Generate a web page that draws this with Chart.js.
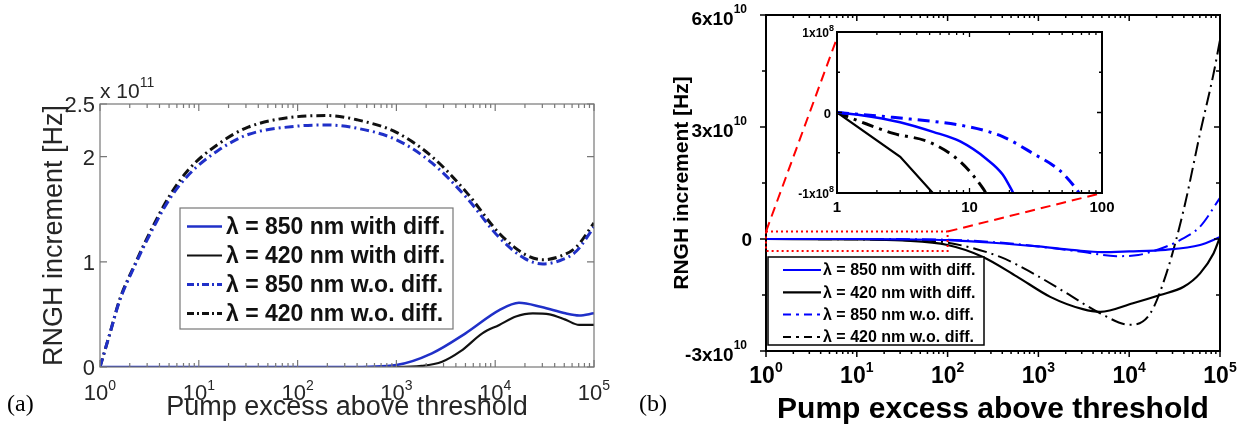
<!DOCTYPE html>
<html>
<head>
<meta charset="utf-8">
<title>RNGH increment vs pump excess</title>
<script src="https://cdn.jsdelivr.net/npm/chart.js@4.4.1/dist/chart.umd.min.js"></script>
<style>
  html, body { margin: 0; padding: 0; background: #fff; }
  body { position: relative; width: 1246px; height: 441px; overflow: hidden; }
  canvas { position: absolute; }
  #chartA { left: 0; top: 0; }
  #chartB { left: 620px; top: 0; }
  #chartInset { left: 780px; top: 20px; }
  .tag { position: absolute; top: 391px; font: 24px "Liberation Serif", serif; color: #000; line-height: 1; }
</style>
</head>
<body>
<canvas id="chartA" width="620" height="441"></canvas>
<canvas id="chartB" width="626" height="441"></canvas>
<canvas id="chartInset" width="340" height="200"></canvas>
<div class="tag" style="left:7px">(a)</div>
<div class="tag" style="left:639px">(b)</div>
<script>
// ---- panel (a): RNGH increment in units of 1e11 Hz ----
const aPumpWo = [1, 1.26, 1.58, 2.24, 3.16, 5.01, 7.94, 15.8, 31.6, 100, 200, 398, 1000, 2290, 5130, 11000, 20000, 30200, 44700, 66100, 100000];
const a420Wo = [0, 0.32, 0.64, 0.97, 1.27, 1.62, 1.88, 2.12, 2.28, 2.38, 2.39, 2.35, 2.23, 2.0, 1.66, 1.27, 1.07, 1.02, 1.05, 1.14, 1.37];
const a850Wo = [0, 0.32, 0.63, 0.96, 1.25, 1.59, 1.83, 2.06, 2.21, 2.29, 2.30, 2.27, 2.16, 1.94, 1.61, 1.23, 1.03, 0.98, 1.01, 1.10, 1.33];
const aPump850 = [1, 316, 1000, 2290, 5010, 11000, 17400, 29500, 51300, 70800, 100000];
const a850With = [0, 0, 0.02, 0.13, 0.32, 0.54, 0.61, 0.57, 0.51, 0.49, 0.51];
const aPump420 = [1, 1000, 1800, 2900, 4470, 7410, 11000, 16200, 24000, 35500, 51300, 70800, 100000];
const a420With = [0, 0, 0.01, 0.05, 0.15, 0.32, 0.40, 0.48, 0.51, 0.50, 0.45, 0.40, 0.40];

// ---- panel (b): RNGH increment in units of 1e10 Hz ----
const bPump850With = [1, 10, 31.6, 100, 316, 1000, 2510, 5010, 10000, 25100, 60300, 100000];
const b850With = [0, 0, -0.01, -0.03, -0.1, -0.2, -0.3, -0.35, -0.33, -0.29, -0.16, 0.05];
const bPump420With = [1, 10, 31.6, 100, 245, 575, 1350, 3090, 4790, 11000, 21900, 39800, 60300, 85100, 100000];
const b420With = [0, -0.01, -0.04, -0.16, -0.48, -1.0, -1.55, -1.88, -1.95, -1.72, -1.5, -1.28, -0.92, -0.38, 0.05];
const bPump850Wo = [1, 10, 100, 316, 1000, 3160, 7240, 12600, 17000, 25700, 36300, 60300, 100000];
const b850Wo = [0, 0, -0.02, -0.08, -0.2, -0.35, -0.46, -0.43, -0.35, -0.2, -0.03, 0.33, 1.1];
const bPump420Wo = [1, 10, 31.6, 100, 380, 871, 2040, 4790, 10200, 17000, 25700, 39800, 60300, 85100, 100000];
const b420Wo = [0, -0.01, -0.03, -0.1, -0.48, -0.92, -1.45, -1.99, -2.3, -2.0, -0.92, 0.78, 2.83, 4.44, 5.33];

// ---- inset of (b), pump 1..100: RNGH increment in units of 1e8 Hz ----
const inPump420With = [1, 3, 6];
const in420With = [0, -0.55, -1.1];
const inPump850With = [1, 1.48, 2.99, 5.31, 8.51, 13.5, 17.8, 21.4, 25];
const in850With = [0, -0.03, -0.12, -0.24, -0.36, -0.58, -0.77, -1.0, -1.2];
const inPump420Wo = [1, 1.48, 2.66, 5.01, 8.51, 12.6, 15];
const in420Wo = [0, -0.11, -0.26, -0.37, -0.61, -0.94, -1.15];
const inPump850Wo = [1, 2.63, 10, 17.8, 30.2, 47.9, 64.6, 80];
const in850Wo = [0, -0.06, -0.18, -0.30, -0.51, -0.72, -0.96, -1.2];

// ---- legend text and tick labels ----
const seriesLabels = ['λ = 850 nm with diff.', 'λ = 420 nm with diff.', 'λ = 850 nm w.o. diff.', 'λ = 420 nm w.o. diff.'];
const decadeTicks = [1, 10, 100, 1000, 10000, 100000];
const decadeExp = ['0', '1', '2', '3', '4', '5'];
const aYTicks = [0, 1, 2, 2.5];
const aYLabels = ['0', '1', '2', '2.5'];
const bYTicks = [-3, 0, 3, 6];
const bYLabels = [['-3x10', '10'], ['0', ''], ['3x10', '10'], ['6x10', '10']];
const bYMinor = [-1.5, 1.5, 4.5];
const inXTicks = [1, 10, 100];
const inXLabels = ['1', '10', '100'];
const inYTicks = [-1, 0, 1];
const inYLabels = [['-1x10', '8'], ['0', ''], ['1x10', '8']];
const inYMinor = [-0.5, 0.5];

const SANS = '"Liberation Sans", Arial, sans-serif';

function pts(xs, ys) {
  return xs.map((x, i) => ({ x: x, y: ys[i] }));
}

function line(label, xs, ys, color, width, dash, smooth) {
  return {
    label: label,
    data: pts(xs, ys),
    borderColor: color,
    borderWidth: width,
    borderDash: dash || [],
    pointRadius: 0,
    fill: false,
    cubicInterpolationMode: smooth === false ? 'default' : 'monotone',
    tension: 0
  };
}

function logMinor(lo, hi) {
  const out = [];
  for (let d = lo; d < hi; d *= 10) {
    for (let k = 2; k < 10; k++) out.push(d * k);
  }
  return out;
}

// tick marks along one edge of the plot box; len > 0 points inwards
function marks(chart, axis, side, vals, len) {
  const a = chart.chartArea, s = chart.scales[axis], ctx = chart.ctx;
  ctx.beginPath();
  for (const v of vals) {
    const p = s.getPixelForValue(v);
    if (side === 'bottom') { ctx.moveTo(p, a.bottom); ctx.lineTo(p, a.bottom - len); }
    else if (side === 'top') { ctx.moveTo(p, a.top); ctx.lineTo(p, a.top + len); }
    else if (side === 'left') { ctx.moveTo(a.left, p); ctx.lineTo(a.left + len, p); }
    else { ctx.moveTo(a.right, p); ctx.lineTo(a.right - len, p); }
  }
  ctx.stroke();
}

// text with a superscript, e.g. 10 with exponent
function supText(ctx, base, sup, x, y, font, supFont, align, rise) {
  ctx.font = font;
  const wb = ctx.measureText(base).width;
  ctx.font = supFont;
  const ws = sup ? ctx.measureText(sup).width : 0;
  let x0 = x;
  if (align === 'right') x0 = x - wb - ws;
  if (align === 'center') x0 = x - (wb + ws) / 2;
  ctx.textAlign = 'left';
  ctx.textBaseline = 'alphabetic';
  ctx.font = font;
  ctx.fillText(base, x0, y);
  if (sup) {
    ctx.font = supFont;
    ctx.fillText(sup, x0 + wb, y - rise);
  }
}

function drawLegend(chart, box, st) {
  const ctx = chart.ctx;
  ctx.save();
  ctx.fillStyle = '#fff';
  ctx.fillRect(box.x, box.y, box.w, box.h);
  ctx.strokeStyle = st.frame;
  ctx.lineWidth = st.frameWidth;
  ctx.strokeRect(box.x, box.y, box.w, box.h);
  chart.data.datasets.forEach((ds, i) => {
    const y = box.y + st.first + i * st.row;
    ctx.strokeStyle = ds.borderColor;
    ctx.lineWidth = ds.borderWidth;
    ctx.setLineDash(st.dashes[i]);
    ctx.beginPath();
    ctx.moveTo(box.x + st.l0, y);
    ctx.lineTo(box.x + st.l1, y);
    ctx.stroke();
    ctx.setLineDash([]);
    ctx.fillStyle = st.color;
    ctx.font = st.font;
    ctx.textAlign = 'left';
    ctx.textBaseline = 'middle';
    ctx.fillText(ds.label, box.x + st.tx, y + 1);
  });
  ctx.restore();
}

function hiddenScale(extra) {
  return Object.assign({
    ticks: { display: false },
    grid: { display: false },
    border: { display: false }
  }, extra);
}

// ---------- panel (a) ----------
const blueA = '#2030c8';
const dashA = [9, 4, 2, 4];

const decorA = {
  id: 'decorA',
  afterDatasetsDraw(chart) {
    const { ctx, chartArea: a, scales: { x, y } } = chart;
    ctx.save();
    ctx.strokeStyle = '#777';
    ctx.lineWidth = 1.2;
    ctx.strokeRect(a.left, a.top, a.right - a.left, a.bottom - a.top);
    marks(chart, 'x', 'bottom', decadeTicks, 7);
    marks(chart, 'x', 'top', decadeTicks, 7);
    marks(chart, 'x', 'bottom', logMinor(1, 1e5), 4);
    marks(chart, 'x', 'top', logMinor(1, 1e5), 4);
    marks(chart, 'y', 'left', aYTicks, 7);
    marks(chart, 'y', 'right', aYTicks, 7);

    ctx.fillStyle = '#262626';
    decadeTicks.forEach((v, i) => {
      supText(ctx, '10', decadeExp[i], x.getPixelForValue(v), a.bottom + 33,
        '22px ' + SANS, '14px ' + SANS, 'center', 10);
    });
    aYTicks.forEach((v, i) => {
      supText(ctx, aYLabels[i], '', a.left - 5, y.getPixelForValue(v) + 8,
        '22px ' + SANS, '14px ' + SANS, 'right', 0);
    });
    supText(ctx, 'x 10', '11', a.left, a.top - 6, '21px ' + SANS, '14px ' + SANS, 'left', 11);

    drawLegend(chart, { x: a.left + 80, y: a.top + 104, w: 273, h: 121 }, {
      frame: '#777', frameWidth: 1.2, first: 18.5, row: 29, l0: 7, l1: 42, tx: 46,
      color: '#111', font: 'bold 23px ' + SANS,
      dashes: [[], [], [7, 3, 2, 3], [7, 3, 2, 3]]
    });
    ctx.restore();
  }
};

new Chart(document.getElementById('chartA'), {
  type: 'line',
  data: {
    datasets: [
      line(seriesLabels[0], aPump850, a850With, blueA, 2.5),
      line(seriesLabels[1], aPump420, a420With, '#111', 2.2),
      line(seriesLabels[2], aPumpWo, a850Wo, blueA, 3, dashA),
      line(seriesLabels[3], aPumpWo, a420Wo, '#111', 3, dashA)
    ]
  },
  options: {
    responsive: false,
    animation: false,
    events: [],
    layout: { padding: { left: 0, right: 26, top: 104, bottom: 0 } },
    plugins: { legend: { display: false }, tooltip: { enabled: false } },
    scales: {
      x: hiddenScale({
        type: 'logarithmic', min: 1, max: 1e5,
        title: { display: true, text: 'Pump excess above threshold', color: '#262626',
          font: { family: SANS, size: 27 }, padding: { top: 0, bottom: 17 } },
        afterFit: s => { s.height = 74; }
      }),
      y: hiddenScale({
        type: 'linear', min: 0, max: 2.5,
        title: { display: true, text: 'RNGH increment [Hz]', color: '#262626',
          font: { family: SANS, size: 27 }, padding: { top: 38, bottom: 0 } },
        afterFit: s => { s.width = 100; }
      })
    }
  },
  plugins: [decorA]
});

// ---------- inset of panel (b) ----------
const dashIn = [12, 6, 3, 6];

const decorInset = {
  id: 'decorInset',
  afterDatasetsDraw(chart) {
    const { ctx, chartArea: a, scales: { x, y } } = chart;
    ctx.save();
    ctx.strokeStyle = '#000';
    ctx.lineWidth = 2;
    ctx.strokeRect(a.left, a.top, a.right - a.left, a.bottom - a.top);
    ctx.lineWidth = 1.3;
    marks(chart, 'x', 'bottom', inXTicks, 5);
    marks(chart, 'x', 'top', inXTicks, 5);
    marks(chart, 'x', 'bottom', logMinor(1, 100), 3);
    marks(chart, 'x', 'top', logMinor(1, 100), 3);
    marks(chart, 'y', 'left', inYTicks, 5);
    marks(chart, 'y', 'right', inYTicks, 5);
    marks(chart, 'y', 'left', inYMinor, 3);
    marks(chart, 'y', 'right', inYMinor, 3);

    ctx.fillStyle = '#000';
    inXTicks.forEach((v, i) => {
      supText(ctx, inXLabels[i], '', x.getPixelForValue(v), a.bottom + 19,
        'bold 15px ' + SANS, 'bold 9px ' + SANS, 'center', 0);
    });
    inYTicks.forEach((v, i) => {
      const [base, sup] = inYLabels[i];
      const p = y.getPixelForValue(v);
      if (sup) {
        supText(ctx, base, sup, a.left - 3, p + 5, 'bold 12px ' + SANS, 'bold 9px ' + SANS, 'right', 6);
      } else {
        supText(ctx, base, '', a.left - 6, p + 5, 'bold 13px ' + SANS, 'bold 9px ' + SANS, 'right', 0);
      }
    });
    ctx.restore();
  }
};

const inset = new Chart(document.getElementById('chartInset'), {
  type: 'line',
  data: {
    datasets: [
      line(seriesLabels[0], inPump850With, in850With, '#0000ff', 2.5),
      line(seriesLabels[1], inPump420With, in420With, '#000', 2.2, [], false),
      line(seriesLabels[2], inPump850Wo, in850Wo, '#0000ff', 3, dashIn),
      line(seriesLabels[3], inPump420Wo, in420Wo, '#000', 3, dashIn)
    ]
  },
  options: {
    responsive: false,
    animation: false,
    events: [],
    layout: { padding: { left: 0, right: 18, top: 12, bottom: 0 } },
    plugins: { legend: { display: false }, tooltip: { enabled: false } },
    scales: {
      x: hiddenScale({ type: 'logarithmic', min: 1, max: 100, afterFit: s => { s.height = 27; } }),
      y: hiddenScale({ type: 'linear', min: -1, max: 1, afterFit: s => { s.width = 57; } })
    }
  },
  plugins: [decorInset]
});

// ---------- panel (b) ----------
const dashB = [14, 5, 2, 5];
// zoomed window that the inset magnifies (drawn enlarged, in data units)
const zoomWin = { x0: 1, x1: 100, y0: -0.32, y1: 0.2 };

const decorB = {
  id: 'decorB',
  afterDatasetsDraw(chart) {
    const { ctx, chartArea: a, scales: { x, y } } = chart;
    ctx.save();
    ctx.strokeStyle = '#000';
    ctx.lineWidth = 2;
    ctx.strokeRect(a.left, a.top, a.right - a.left, a.bottom - a.top);
    ctx.lineWidth = 1.5;
    marks(chart, 'x', 'bottom', decadeTicks, -6);
    marks(chart, 'x', 'bottom', logMinor(1, 1e5), -3);
    marks(chart, 'x', 'top', decadeTicks, 6);
    marks(chart, 'x', 'top', logMinor(1, 1e5), 3);
    marks(chart, 'y', 'left', bYTicks, -6);
    marks(chart, 'y', 'left', bYMinor, -4);
    marks(chart, 'y', 'right', bYTicks, 6);
    marks(chart, 'y', 'right', bYMinor, 4);

    ctx.fillStyle = '#000';
    decadeTicks.forEach((v, i) => {
      supText(ctx, '10', decadeExp[i], x.getPixelForValue(v), a.bottom + 32,
        'bold 23px ' + SANS, 'bold 14px ' + SANS, 'center', 11);
    });
    bYTicks.forEach((v, i) => {
      const [base, sup] = bYLabels[i];
      const p = y.getPixelForValue(v);
      if (sup) {
        supText(ctx, base, sup, a.left - 19, p + 10, 'bold 19px ' + SANS, 'bold 12px ' + SANS, 'right', 12);
      } else {
        supText(ctx, base, '', a.left - 14, p + 7, 'bold 19px ' + SANS, 'bold 12px ' + SANS, 'right', 0);
      }
    });

    // dotted window and dashed guides to the inset corners
    const rB = chart.canvas.getBoundingClientRect();
    const rI = inset.canvas.getBoundingClientRect();
    const ia = inset.chartArea;
    const ox = rI.left - rB.left, oy = rI.top - rB.top;
    const wx0 = x.getPixelForValue(zoomWin.x0), wx1 = x.getPixelForValue(zoomWin.x1);
    const wy0 = y.getPixelForValue(zoomWin.y0), wy1 = y.getPixelForValue(zoomWin.y1);
    ctx.strokeStyle = '#ff0000';
    ctx.lineWidth = 2;
    ctx.setLineDash([2, 3]);
    ctx.strokeRect(wx0, wy1, wx1 - wx0, wy0 - wy1);
    ctx.setLineDash([10, 6]);
    ctx.beginPath();
    ctx.moveTo(wx0, wy1);
    ctx.lineTo(ox + ia.left, oy + ia.top + 6);
    ctx.moveTo(wx1, wy1);
    ctx.lineTo(ox + ia.right, oy + ia.bottom);
    ctx.stroke();
    ctx.setLineDash([]);

    drawLegend(chart, { x: a.left + 2, y: y.getPixelForValue(0) + 18, w: 216, h: 88 }, {
      frame: '#000', frameWidth: 1.5, first: 13, row: 22.3, l0: 15, l1: 53, tx: 55,
      color: '#000', font: 'bold 16px ' + SANS,
      dashes: [[], [], [8, 5, 3, 5], [8, 5, 3, 5]]
    });
    ctx.restore();
  }
};

new Chart(document.getElementById('chartB'), {
  type: 'line',
  data: {
    datasets: [
      line(seriesLabels[0], bPump850With, b850With, '#0000ff', 2.2),
      line(seriesLabels[1], bPump420With, b420With, '#000', 2.2),
      line(seriesLabels[2], bPump850Wo, b850Wo, '#0000ff', 2, dashB),
      line(seriesLabels[3], bPump420Wo, b420Wo, '#000', 2, dashB)
    ]
  },
  options: {
    responsive: false,
    animation: false,
    events: [],
    layout: { padding: { left: 0, right: 26, top: 15, bottom: 0 } },
    plugins: { legend: { display: false }, tooltip: { enabled: false } },
    scales: {
      x: hiddenScale({
        type: 'logarithmic', min: 1, max: 1e5,
        title: { display: true, text: 'Pump excess above threshold', color: '#000',
          font: { family: SANS, size: 30, weight: 'bold' }, padding: { top: 0, bottom: 13 } },
        afterFit: s => { s.height = 90; }
      }),
      y: hiddenScale({
        type: 'linear', min: -3, max: 6,
        title: { display: true, text: 'RNGH increment [Hz]', color: '#000',
          font: { family: SANS, size: 21, weight: 'bold' }, padding: { top: 50, bottom: 0 } },
        afterFit: s => { s.width = 146; }
      })
    }
  },
  plugins: [decorB]
});
</script>
</body>
</html>
